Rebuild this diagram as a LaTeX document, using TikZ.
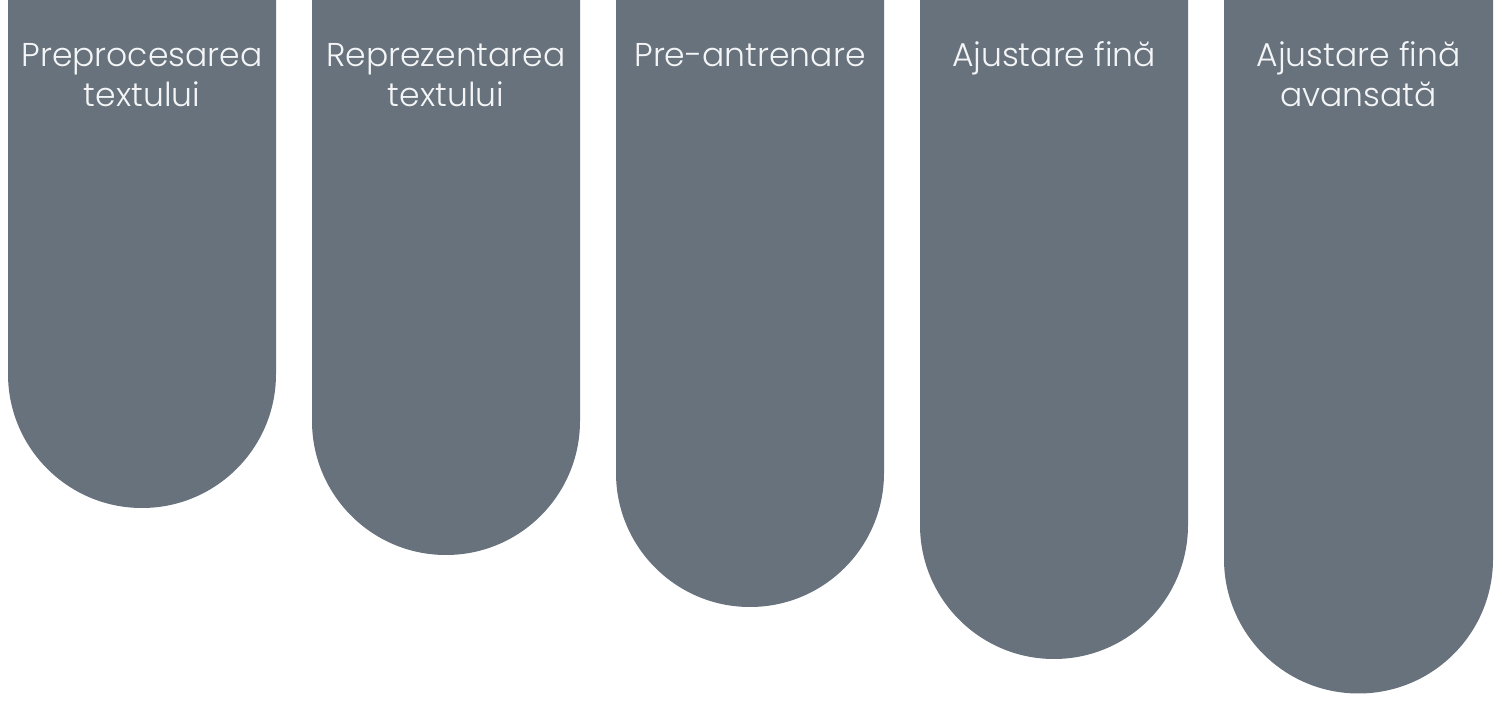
\documentclass[tikz,border=0pt]{standalone}
\usepackage{fontspec}
\setmainfont{Poppins Light}
\usepackage{xcolor}
\definecolor{pillgray}{HTML}{67727D}
\definecolor{pilltext}{HTML}{F4F5F6}
\tikzset{
  pill/.style={fill=pillgray},
  pilllabel/.style={font=\fontsize{33}{40}\selectfont, text=pilltext, align=center, anchor=base, inner sep=0pt}
}

\begin{document}
\begin{tikzpicture}[x=1pt, y=1pt]
  \useasboundingbox[fill=white] (0,0) rectangle (1502,704);
  \fill[pill] (8,710) -- (8,330) arc[start angle=180, end angle=360, radius=134] -- (276,710) -- cycle;
  \fill[pill] (312,710) -- (312,283) arc[start angle=180, end angle=360, radius=134] -- (580,710) -- cycle;
  \fill[pill] (616,710) -- (616,231) arc[start angle=180, end angle=360, radius=134] -- (884,710) -- cycle;
  \fill[pill] (920,710) -- (920,179) arc[start angle=180, end angle=360, radius=134] -- (1188,710) -- cycle;
  \fill[pill] (1224,710) -- (1224,145) arc[start angle=180, end angle=360, radius=134.5] -- (1493,710) -- cycle;
  % two-line labels sit on the baseline of their last line
  \node[pilllabel] (prep) at (142,597) {Preprocesarea\\textului};
  \node[pilllabel] (repr) at (446,597) {Reprezentarea\\textului};
  \node[pilllabel] (pret) at (750,637) {Pre-antrenare};
  \node[pilllabel] (fine) at (1054,637) {Ajustare fină};
  \node[pilllabel] (adv) at (1358.5,597) {Ajustare fină\\avansată};
\end{tikzpicture}
\end{document}
